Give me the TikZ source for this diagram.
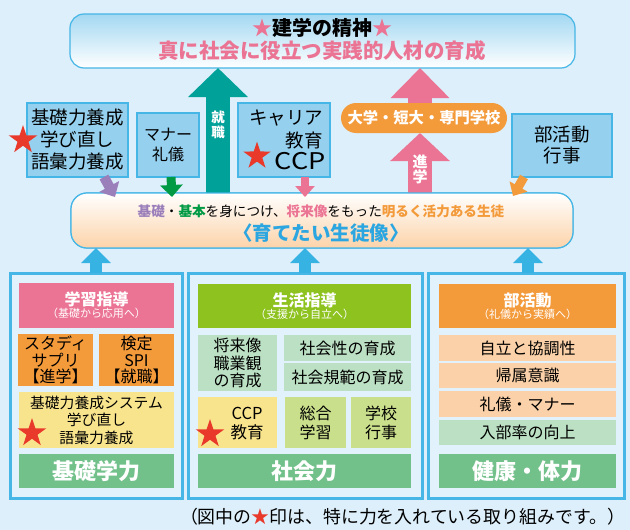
\documentclass[tikz,border=0pt]{standalone}
\usepackage{fontspec}
\usepackage{graphicx}
\setmainfont{Noto Sans CJK JP}
\usetikzlibrary{arrows.meta,shapes.geometric}
\definecolor{bg}{HTML}{DDEFFA}
\definecolor{panelbg}{HTML}{E2F2FC}
\definecolor{bordblue}{HTML}{45B6E6}
\definecolor{boxblue}{HTML}{95D0EE}
\definecolor{topblue}{HTML}{A3D8F2}
\definecolor{peach}{HTML}{FCD3A9}
\definecolor{teal}{HTML}{00A199}
\definecolor{pinkc}{HTML}{EB7393}
\definecolor{orangec}{HTML}{F39A3B}
\definecolor{purplec}{HTML}{9A7FBA}
\definecolor{greenarr}{HTML}{009A44}
\definecolor{starred}{HTML}{E8392B}
\definecolor{yellowc}{HTML}{F9E48E}
\definecolor{lgreen}{HTML}{BCE0C3}
\definecolor{olivec}{HTML}{CADF8C}
\definecolor{headgreen}{HTML}{8DC21F}
\definecolor{botgreen}{HTML}{72C08A}
\definecolor{peachbox}{HTML}{FAD1A8}
\definecolor{arrblue}{HTML}{36B2E3}
\definecolor{ideal}{HTML}{2CA6E0}
\newcommand\fs[2]{\fontsize{#1}{#2}\selectfont}
\newcommand\placebox[7]{\node[#6, minimum width={(#4-#2)*1pt}, minimum height={(#5-#3)*1pt}, anchor=north west] (#1) at (#2,#3) {#7};}
\tikzset{
  base/.style={inner sep=0pt, outer sep=0pt, align=center},
  lbox/.style={base, draw=bordblue, line width=1.2pt, fill=boxblue, font=\fs{18.5}{22}},
  panel/.style={base, draw=bordblue, line width=3pt, fill=panelbg},
  head/.style={base, text=white},
  sub/.style={base, font=\fs{16}{17.5}},
  bottom/.style={base, fill=botgreen, text=white, font=\bfseries\fs{22}{24}},
  bigstar/.style={star, star points=5, star point ratio=2.6, minimum size=30pt, inner sep=0pt, fill=starred},
  blockarr/.style={line width=24pt, -{Triangle[width=58pt,length=29pt]}},
  smallarr/.style={line width=10pt, -{Triangle[width=22pt,length=12pt]}},
  uparr/.style={draw=arrblue, line width=12pt, -{Triangle[width=29pt,length=15pt]}},
  vtext/.style={base, text=white, font=\bfseries\fs{13.5}{14.5}},
}
\begin{document}
\begin{tikzpicture}[x=1pt,y=-1pt]
\useasboundingbox (0,0) rectangle (630,530);
\fill[bg] (0,0) rectangle (630,530);

% top box
\node[base, draw=bordblue, line width=1.2pt, rounded corners=14pt, top color=topblue, bottom color=white, minimum width=505pt, minimum height=54pt, anchor=north west] (top) at (70,14) {};
\node[base, font=\bfseries\fs{20}{22}] (title) at (322,28) {\textcolor{pinkc}{★}建学の精神\textcolor{pinkc}{★}};
\node[base, font=\bfseries\fs{20.5}{22}, text=pinkc] (motto) at (322,51) {真に社会に役立つ実践的人材の育成};

% middle box (shading base)
\node[base, draw=bordblue, line width=1.2pt, rounded corners=16pt, top color=white, bottom color=peach, minimum width=502pt, minimum height=55pt, anchor=north west] (mid) at (71,193) {};

% coordinates for connectors
\coordinate (tx) at (218,0);
\coordinate (px) at (420,0);

% pill
\node[base, fill=orangec, rounded corners=15pt, minimum width=166pt, minimum height=30pt, anchor=north west, text=white, font=\bfseries\fs{15.3}{17}] (pill) at (341,103) {大学・短大・専門学校};

% big arrows
\draw[blockarr, draw=teal] (tx |- mid.north) -- (tx |- top.south);
\draw[blockarr, draw=pinkc, -{Triangle[width=58pt,length=28pt]}] (px |- mid.north) -- (px |- pill.south);
\draw[blockarr, draw=pinkc, -{Triangle[width=57pt,length=30pt]}] (px |- pill.north) -- (px |- top.south);
\node[vtext] (shu) at (218,125) {就\\職};
\node[vtext, font=\bfseries\fs{15}{15.5}] (shin) at (420,169.5) {進\\学};

% middle box drawn again over arrow bases
\node[base, draw=bordblue, line width=1.2pt, rounded corners=16pt, top color=white, bottom color=peach, minimum width=502pt, minimum height=55pt, anchor=north west] (mid2) at (71,193) {};
\node[base, font=\fs{13.6}{15}] (ideal1) at (321,211) {\textcolor{purplec}{\bfseries 基礎}・\textcolor{greenarr}{\bfseries 基本}を身につけ、\textcolor{pinkc}{\bfseries 将来像}をもった\textcolor{orangec}{\bfseries 明るく活力ある生徒}};
\node[base, font=\bfseries\fs{19.5}{21}, text=ideal] (ideal2) at (321,233) {〈育てたい生徒像〉};

% upper small boxes
\placebox{kiso}{27}{103}{128}{177}{lbox}{基礎力養成\\学び直し\\語彙力養成}
\placebox{manner}{137}{113}{199}{177}{lbox, font=\fs{16}{20}}{マナー\\礼儀}
\placebox{career}{238}{103}{330}{177}{lbox}{}
\node[base, font=\fs{18.5}{22}] (car1) at (286,118) {キャリア};
\node[base, font=\fs{18.5}{22}] (car2) at (304,140) {教育};
\node[base, font=\fs{23}{24}] (car3) at (300,161.5) {\scalebox{1.18}[1]{CCP}};
\placebox{bukatsu}{512}{114}{612}{177}{lbox, font=\fs{18.5}{21}}{部活動\\行事}
\node[bigstar] (s1) at (23,140) {};
\node[bigstar, minimum size=29pt] (s2) at (257,156) {};

% small arrows
\coordinate (pa1) at (104,177); \coordinate (pa2) at (115,197);
\coordinate (ga1) at (171,177); \coordinate (ga2) at (172,197);
\coordinate (ka1) at (305,177); \coordinate (ka2) at (305,197);
\coordinate (oa1) at (524,177); \coordinate (oa2) at (513,196);
\draw[smallarr, draw=purplec, fill=purplec] (pa1) -- (pa2);
\draw[smallarr, draw=greenarr, line width=9pt] (ga1) -- (ga2);
\draw[smallarr, draw=pinkc, line width=8pt, -{Triangle[width=19pt,length=11pt]}] (ka1) -- (ka2);
\draw[smallarr, draw=orangec, line width=9pt, -{Triangle[width=20pt,length=11pt]}] (oa1) -- (oa2);

% panels
\placebox{lp}{10}{273}{182}{498}{panel}{}
\placebox{mp}{188}{273}{422}{498}{panel}{}
\placebox{rp}{428}{273}{624}{498}{panel}{}

% up arrows from panels to middle box
\coordinate (u1) at (96,0); \coordinate (u2) at (305,0); \coordinate (u3) at (528,0);
\draw[uparr] (u1 |- lp.north) -- (u1 |- mid.south);
\draw[uparr] (u2 |- mp.north) -- (u2 |- mid.south);
\draw[uparr] (u3 |- rp.north) -- (u3 |- mid.south);

% left panel
\placebox{lh}{19}{283}{174}{328}{head, fill=pinkc}{{\bfseries\fs{16}{19}学習指導}\\{\fs{11}{14}（基礎から応用へ）}}
\placebox{study}{18}{334}{93}{386}{sub, fill=orangec, font=\fs{16}{16.5}}{スタディ\\サプリ\\【進学】}
\placebox{kentei}{99}{334}{174}{386}{sub, fill=orangec, font=\fs{16}{16.5}}{検定\\SPI\\【就職】}
\placebox{ysys}{19}{392}{174}{448}{sub, fill=yellowc, font=\fs{14.8}{17.5}}{基礎力養成システム\\学び直し\\語彙力養成}
\node[bigstar] (s3) at (32,433) {};
\placebox{lb}{19}{454}{174}{488}{bottom}{基礎学力}

% middle panel
\placebox{mh}{198}{284}{411}{328}{head, fill=headgreen}{{\bfseries\fs{16}{19}生活指導}\\{\fs{11}{14}（支援から自立へ）}}
\placebox{shorai}{198}{335}{277}{391}{sub, fill=lgreen}{将来像\\職業観\\の育成}
\placebox{shakai1}{284}{335}{411}{361}{sub, fill=lgreen}{社会性の育成}
\placebox{shakai2}{284}{363}{411}{391}{sub, fill=lgreen}{社会規範の育成}
\placebox{ccp}{198}{397}{277}{448}{sub, fill=yellowc}{}
\node[sub, font=\fs{16.5}{19}] (ccpt) at (247,423.5) {CCP\\教育};
\node[bigstar] (s4) at (210,434) {};
\placebox{sogo}{285}{397}{346}{448}{sub, fill=olivec, font=\fs{16}{19}}{総合\\学習}
\placebox{gakko}{351}{397}{411}{448}{sub, fill=olivec, font=\fs{16}{19}}{学校\\行事}
\placebox{mb}{198}{454}{411}{488}{bottom}{社会力}

% right panel
\placebox{rh}{439}{284}{616}{328}{head, fill=orangec}{{\bfseries\fs{16}{19}部活動}\\{\fs{11}{14}（礼儀から実績へ）}}
\placebox{r1}{439}{335}{616}{361}{sub, fill=peachbox}{自立と協調性}
\placebox{r2}{439}{363}{616}{388}{sub, fill=peachbox}{帰属意識}
\placebox{r3}{439}{391}{616}{417}{sub, fill=peachbox}{礼儀・マナー}
\placebox{r4}{439}{420}{616}{445}{sub, fill=lgreen}{入部率の向上}
\placebox{rb}{439}{454}{616}{488}{bottom}{健康・体力}

% caption
\node[base, anchor=west, font=\fs{17.9}{20}] (cap) at (180,517) {（図中の\textcolor{starred}{★}印は、特に力を入れている取り組みです。）};
\end{tikzpicture}
\end{document}
